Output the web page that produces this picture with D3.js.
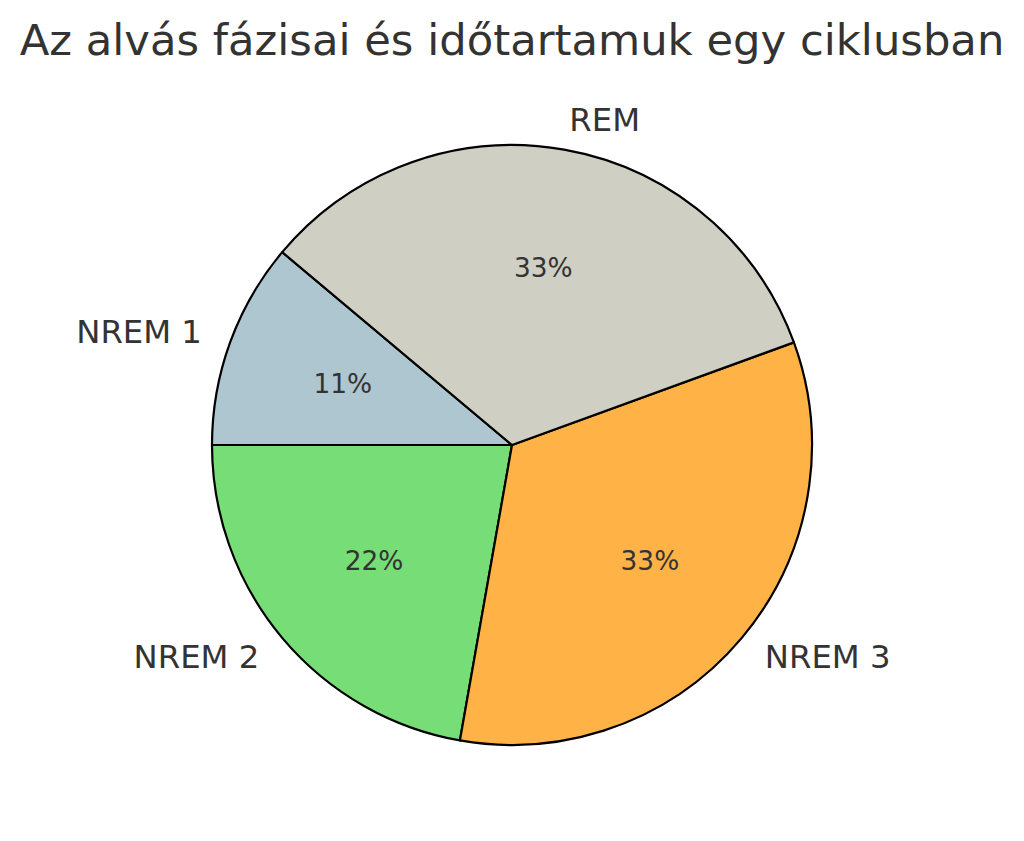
<!DOCTYPE html>
<html><head><meta charset="utf-8">
<script src="https://cdn.jsdelivr.net/npm/d3@7"></script>
<style>body{margin:0;background:#fff}</style>
</head><body>
<script>
const title = "Az alvás fázisai és időtartamuk egy ciklusban";
const categories = ["NREM 1", "NREM 2", "NREM 3", "REM"];
const values = [10, 20, 30, 30];
const colors = ["#AEC6CF", "#77DD77", "#FFB347", "#CFCFC4"];

const W = 1024, H = 841;
const cx = 512, cy = 445, R = 300;
const svg = d3.select("body").append("svg").attr("width", W).attr("height", H);
svg.append("rect").attr("width", W).attr("height", H).attr("fill", "#fff");

svg.append("text").attr("x", 512).attr("y", 55).attr("text-anchor", "middle")
  .attr("font-family", "DejaVu Sans").attr("font-size", 43.3).attr("fill", "#333333").text(title);

const start = (90 - 140) * Math.PI / 180;
const pie = d3.pie().sort(null).value(d => d.v).startAngle(start).endAngle(start - 2 * Math.PI);
const data = categories.map((c, i) => ({c, v: values[i], col: colors[i]}));
const arcs = pie(data);
const total = d3.sum(values);
const arc = d3.arc().innerRadius(0).outerRadius(R);
const g = svg.append("g").attr("transform", `translate(${cx},${cy})`);
g.selectAll("path").data(arcs).join("path").attr("d", arc)
  .attr("fill", d => d.data.col).attr("stroke", "#000").attr("stroke-width", 2.2).attr("stroke-linejoin", "round");

const fmt = d => Math.round(d.data.v / total * 100) + "%";
arcs.forEach(d => {
  const a = (d.startAngle + d.endAngle) / 2;
  const sx = Math.sin(a), sy = -Math.cos(a);
  g.append("text").attr("x", 1.1 * R * sx).attr("y", 1.1 * R * sy).attr("dy", "0.35em")
    .attr("text-anchor", sx > 0 ? "start" : "end")
    .attr("font-family", "DejaVu Sans").attr("font-size", 32.3).attr("fill", "#333333").text(d.data.c);
  g.append("text").attr("x", 0.6 * R * sx).attr("y", 0.6 * R * sy).attr("dy", "0.35em")
    .attr("text-anchor", "middle")
    .attr("font-family", "DejaVu Sans").attr("font-size", 26.4).attr("fill", "#333333").text(fmt(d));
});
</script>
</body></html>
